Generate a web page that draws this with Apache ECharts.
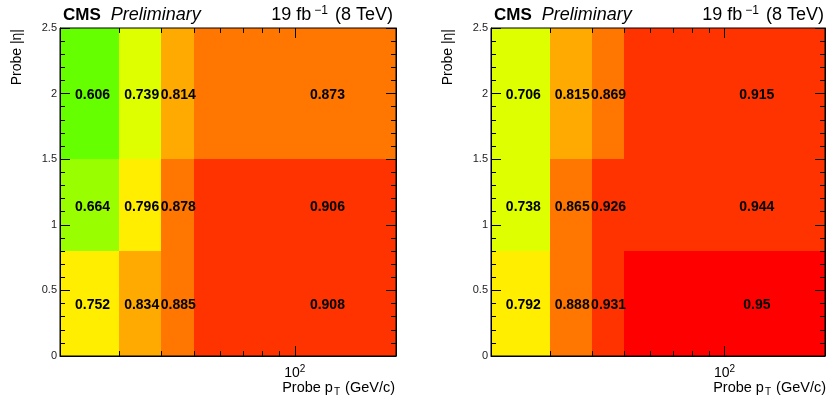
<!DOCTYPE html>
<html>
<head>
<meta charset="utf-8">
<script src="https://cdn.jsdelivr.net/npm/echarts@6/dist/echarts.min.js"></script>
<style>
html,body{margin:0;padding:0;background:#fff;}
#chart{width:828px;height:407px;}
</style>
</head>
<body>
<div id="chart"></div>
<script>
// Bin edges
const ptEdges = [20, 30, 40, 50, 200];
const etaEdges = [0, 0.8, 1.5, 2.5];
// Efficiencies, rows from low |eta| to high |eta|, columns by pT bin
const effLeftRow0 = [0.752, 0.834, 0.885, 0.908];
const effLeftRow1 = [0.664, 0.796, 0.878, 0.906];
const effLeftRow2 = [0.606, 0.739, 0.814, 0.873];
const effRightRow0 = [0.792, 0.888, 0.931, 0.95];
const effRightRow1 = [0.738, 0.865, 0.926, 0.944];
const effRightRow2 = [0.706, 0.815, 0.869, 0.915];
// Log-axis tick values
const ptTicks = [30, 40, 50, 60, 70, 80, 90, 100];
const etaTickLabels = ['0', '0.5', '1', '1.5', '2', '2.5'];

const FONT = '"Liberation Sans", Arial, Helvetica, sans-serif';

function buildCells(rows) {
  const out = [];
  rows.forEach((row, r) => {
    row.forEach((v, c) => {
      out.push([ptEdges[c], ptEdges[c + 1], etaEdges[r], etaEdges[r + 1], v]);
    });
  });
  return out;
}
const leftCells = buildCells([effLeftRow0, effLeftRow1, effLeftRow2]);
const rightCells = buildCells([effRightRow0, effRightRow1, effRightRow2]);

function cellItem(params, api) {
  const x0 = api.value(0), x1 = api.value(1), y0 = api.value(2), y1 = api.value(3), v = api.value(4);
  const p0 = api.coord([x0, y0]);
  const p1 = api.coord([x1, y1]);
  const c = api.coord([(x0 + x1) / 2, (y0 + y1) / 2]);
  const L = Math.round(p0[0]), R = Math.round(p1[0]), T = Math.round(p1[1]), B = Math.round(p0[1]);
  return {
    type: 'group',
    children: [
      { type: 'rect', shape: { x: L, y: T, width: R - L, height: B - T },
        style: { fill: api.visual('color'), stroke: null } },
      { type: 'text', x: c[0], y: c[1] + 2, z2: 10,
        style: { text: String(v), align: 'center', verticalAlign: 'middle',
                 font: 'bold 14px ' + FONT, fill: '#000' } }
    ]
  };
}

const yMin = etaEdges[0], yMax = etaEdges[etaEdges.length - 1];
function tickItem(params, api) {
  const x = api.value(0);
  const lg = Math.log10(x);
  const major = Math.abs(lg - Math.round(lg)) < 1e-9;
  const len = major ? 10 : 5;
  const b = api.coord([x, yMin]);
  const t = api.coord([x, yMax]);
  const px = Math.round(b[0]) + 0.5;
  const st = { stroke: '#000', lineWidth: 1 };
  return {
    type: 'group',
    children: [
      { type: 'line', shape: { x1: px, y1: b[1], x2: px, y2: b[1] - len }, style: st },
      { type: 'line', shape: { x1: px, y1: t[1], x2: px, y2: t[1] + len }, style: st }
    ]
  };
}

const grids = [
  { left: 60, top: 28, width: 336, height: 328 },
  { left: 491, top: 28, width: 335, height: 328 }
];

function xAxisFor(i) {
  return {
    type: 'log', logBase: 10, gridIndex: i, min: ptEdges[0], max: ptEdges[ptEdges.length - 1],
    z: 10,
    axisLine: { show: true, lineStyle: { color: '#000', width: 1 } },
    axisTick: { show: false },
    splitLine: { show: false },
    minorTick: { show: false },
    axisLabel: {
      margin: 8,
      showMinLabel: true, showMaxLabel: true,
      formatter: function (v) {
        const lg = Math.log10(v);
        if (Math.abs(lg - Math.round(lg)) < 1e-6) return '{n|10}{s|' + Math.round(lg) + '}';
        return '';
      },
      rich: {
        n: { fontFamily: FONT, fontSize: 14, color: '#000', lineHeight: 18 },
        s: { fontFamily: FONT, fontSize: 10, color: '#000', lineHeight: 10, verticalAlign: 'top' }
      }
    }
  };
}
function yAxisFor(i, pos) {
  return {
    type: 'value', gridIndex: i, position: pos, min: yMin, max: yMax, interval: 0.5,
    z: 10,
    axisLine: { show: true, lineStyle: { color: '#000', width: 1 } },
    axisTick: { show: true, inside: true, length: 10, lineStyle: { color: '#000' } },
    minorTick: { show: true, splitNumber: 5, length: 5, lineStyle: { color: '#000' } },
    splitLine: { show: false },
    minorSplitLine: { show: false },
    axisLabel: {
      show: pos === 'left', margin: 3, fontFamily: FONT, fontSize: 11, color: '#222',
      formatter: function (v) { return etaTickLabels[Math.round(v / 0.5)]; }
    }
  };
}

function panelTexts(dx) {
  return [
    { type: 'text', x: 63 + dx, y: 15, z: 20,
      style: { text: '{b|CMS}{i|Preliminary}', verticalAlign: 'middle', align: 'left',
        rich: {
          b: { fontFamily: FONT, fontWeight: 'bold', fontSize: 17, fill: '#000' },
          i: { fontFamily: FONT, fontStyle: 'italic', fontSize: 18, fill: '#000', padding: [0, 0, 0, 10] }
        } } },
    { type: 'text', x: 393 + dx, y: 15, z: 20,
      style: { text: '{n|19 fb}{s|\u22121}{n| (8 TeV)}', verticalAlign: 'middle', align: 'right',
        rich: {
          n: { fontFamily: FONT, fontSize: 18, fill: '#000', lineHeight: 20 },
          s: { fontFamily: FONT, fontSize: 12, fill: '#000', lineHeight: 12, verticalAlign: 'top', padding: [0, 2, 0, 3] }
        } } },
    { type: 'text', x: 395 + dx, y: 388, z: 20,
      style: { text: '{n|Probe p}{s|T}{n| (GeV/c)}', verticalAlign: 'middle', align: 'right',
        rich: {
          n: { fontFamily: FONT, fontSize: 14.5, fill: '#000', lineHeight: 18 },
          s: { fontFamily: FONT, fontSize: 10, fill: '#000', lineHeight: 10, verticalAlign: 'bottom', padding: [0, 1, 0, 1] }
        } } },
    { type: 'text', x: 17 + dx, y: 29, rotation: Math.PI / 2, z: 20,
      style: { text: 'Probe |\u03b7|', align: 'right', verticalAlign: 'middle',
               font: '14px ' + FONT, fill: '#000' } }
  ];
}

const chart = echarts.init(document.getElementById('chart'), null, { renderer: 'canvas' });
chart.setOption({
  animation: false,
  backgroundColor: '#fff',
  grid: grids.map(g => Object.assign({ show: true, z: 10, backgroundColor: 'transparent',
    borderColor: '#000', borderWidth: 1 }, g)),
  xAxis: [xAxisFor(0), xAxisFor(1)],
  yAxis: [yAxisFor(0, 'left'), yAxisFor(0, 'right'), yAxisFor(1, 'left'), yAxisFor(1, 'right')],
  visualMap: {
    type: 'piecewise', show: false, dimension: 4, seriesIndex: [0, 1],
    pieces: [
      { gte: 0.55, lt: 0.65, color: '#66ff00' },
      { gte: 0.65, lt: 0.70, color: '#99ff00' },
      { gte: 0.70, lt: 0.75, color: '#ddff00' },
      { gte: 0.75, lt: 0.80, color: '#ffee00' },
      { gte: 0.80, lt: 0.85, color: '#ffaa00' },
      { gte: 0.85, lt: 0.90, color: '#ff7700' },
      { gte: 0.90, lt: 0.95, color: '#ff3300' },
      { gte: 0.95, lte: 1.0, color: '#ff0000' }
    ]
  },
  series: [
    { type: 'custom', xAxisIndex: 0, yAxisIndex: 0, z: 2, renderItem: cellItem,
      encode: { x: [0, 1], y: [2, 3] }, data: leftCells },
    { type: 'custom', xAxisIndex: 1, yAxisIndex: 2, z: 2, renderItem: cellItem,
      encode: { x: [0, 1], y: [2, 3] }, data: rightCells },
    { type: 'custom', xAxisIndex: 0, yAxisIndex: 0, z: 8, renderItem: tickItem,
      encode: { x: 0, y: 1 }, data: ptTicks.map(t => [t, yMin]) },
    { type: 'custom', xAxisIndex: 1, yAxisIndex: 2, z: 8, renderItem: tickItem,
      encode: { x: 0, y: 1 }, data: ptTicks.map(t => [t, yMin]) }
  ],
  graphic: panelTexts(0).concat(panelTexts(431))
});
</script>
</body>
</html>
